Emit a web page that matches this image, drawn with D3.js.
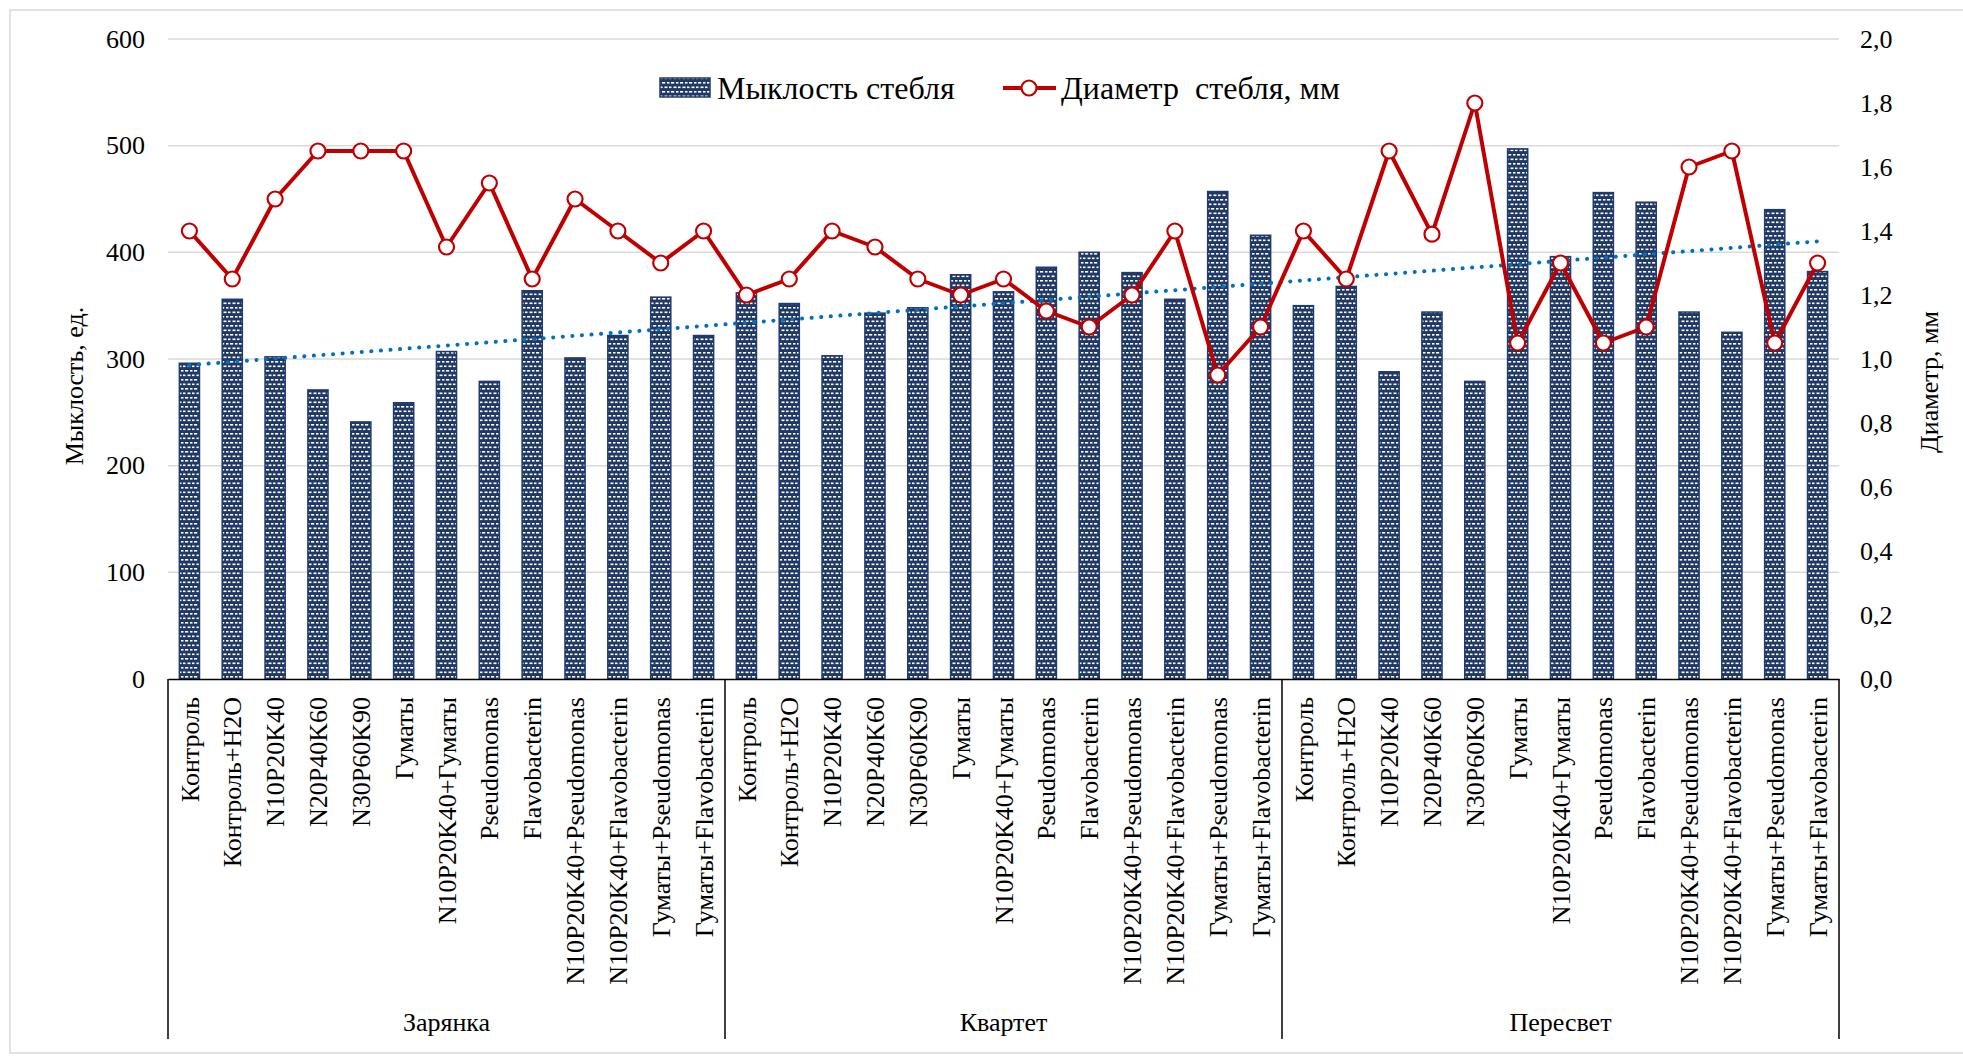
<!DOCTYPE html>
<html>
<head>
<meta charset="utf-8">
<script src="https://cdn.jsdelivr.net/npm/d3@7"></script>
<style>
  body { margin: 0; background: #fff; }
  svg, svg text { font-family: "Liberation Serif", "Times New Roman", serif; }
</style>
</head>
<body>
<svg width="1963" height="1063"></svg>
<script>
// data
const groups = ["Зарянка", "Квартет", "Пересвет"];
const treatments = ["Контроль", "Контроль+H2O", "N10P20K40", "N20P40K60", "N30P60K90", "Гуматы",
    "N10P20K40+Гуматы", "Pseudomonas", "Flavobacterin", "N10P20K40+Pseudomonas",
    "N10P20K40+Flavobacterin", "Гуматы+Pseudomonas", "Гуматы+Flavobacterin"];

// Мыклость стебля, ед. (left axis)
const stemFriability = [
    296, 356, 302, 271, 241, 259, 307, 279, 364, 301, 322, 358, 322,
    362, 352, 303, 343, 348, 379, 363, 386, 400, 381, 356, 457, 416,
    350, 368, 288, 344, 279, 497, 396, 456, 447, 344, 325, 440, 382
];
// Диаметр стебля, мм (right axis)
const stemDiameter = [
    1.40, 1.25, 1.50, 1.65, 1.65, 1.65, 1.35, 1.55, 1.25, 1.50, 1.40, 1.30, 1.40,
    1.20, 1.25, 1.40, 1.35, 1.25, 1.20, 1.25, 1.15, 1.10, 1.20, 1.40, 0.95, 1.10,
    1.40, 1.25, 1.65, 1.39, 1.80, 1.05, 1.30, 1.05, 1.10, 1.60, 1.65, 1.05, 1.30
];

const leftTicks = [0, 100, 200, 300, 400, 500, 600];
const rightTicks = [0, 0.2, 0.4, 0.6, 0.8, 1.0, 1.2, 1.4, 1.6, 1.8, 2.0];

const rows = [];
groups.forEach((g, gi) => treatments.forEach((t, ti) => {
    const i = gi * treatments.length + ti;
    rows.push({key: g + "|" + t, group: g, name: t, idx: i,
               bar: stemFriability[i], dia: stemDiameter[i]});
}));

const serif = "Liberation Serif, Times New Roman, serif";
const plotLeft = 168, plotRight = 1839, plotTop = 39, plotBottom = 679;
const svg = d3.select("svg");

// bar pattern (navy with white dashes)
const defs = svg.append("defs");
const pat = defs.append("pattern")
    .attr("id", "barPat")
    .attr("patternUnits", "userSpaceOnUse")
    .attr("width", 9).attr("height", 9);
pat.append("rect").attr("width", 9).attr("height", 9).attr("fill", "#1f3864");
[[1, 1, 2.5], [5, 1, 3.2], [-1.5, 5.5, 3], [3, 5.5, 2.5], [7.5, 5.5, 3]].forEach(d => {
    pat.append("rect").attr("x", d[0]).attr("y", d[1]).attr("width", d[2]).attr("height", 1.6)
        .attr("fill", "#ffffff");
});

// chart border
svg.append("rect")
    .attr("x", 10).attr("y", 10).attr("width", 1962).attr("height", 1043)
    .attr("fill", "none").attr("stroke", "#d9d9d9").attr("stroke-width", 1.5);

const x = d3.scaleBand()
    .domain(rows.map(d => d.key))
    .range([plotLeft, plotRight])
    .paddingInner(0.53)
    .paddingOuter(0.265);

const y = d3.scaleLinear().domain([0, 600]).range([plotBottom, plotTop]);
const y2 = d3.scaleLinear().domain([0, 2]).range([plotBottom, plotTop]);
const cx = d => x(d.key) + x.bandwidth() / 2;

// gridlines
svg.append("g").selectAll("line").data(leftTicks.filter(t => t > 0)).enter().append("line")
    .attr("x1", plotLeft).attr("x2", plotRight)
    .attr("y1", d => y(d)).attr("y2", d => y(d))
    .attr("stroke", "#d9d9d9").attr("stroke-width", 1.5);

// left axis
const yAxis = svg.append("g")
    .attr("transform", `translate(${plotLeft},0)`)
    .call(d3.axisLeft(y).tickValues(leftTicks).tickSize(0).tickPadding(23))
    .attr("font-family", serif).attr("font-size", 26);
yAxis.select(".domain").remove();
yAxis.selectAll("text").style("font-family", serif).style("font-size", "26px").attr("fill", "#000");

// right axis
const commaFmt = d3.formatLocale({decimal: ",", thousands: " ", grouping: [3], currency: ["", ""]}).format(".1f");
const yAxisR = svg.append("g")
    .attr("transform", `translate(${plotRight},0)`)
    .call(d3.axisRight(y2).tickValues(rightTicks).tickFormat(commaFmt).tickSize(0).tickPadding(21))
    .attr("font-family", serif).attr("font-size", 26);
yAxisR.select(".domain").remove();
yAxisR.selectAll("text").style("font-family", serif).style("font-size", "26px").attr("fill", "#000");

// bars
svg.append("g").selectAll("rect").data(rows).enter().append("rect")
    .attr("x", d => x(d.key))
    .attr("y", d => y(d.bar))
    .attr("width", x.bandwidth())
    .attr("height", d => y(0) - y(d.bar))
    .attr("fill", "url(#barPat)")
    .attr("stroke", "#203a72")
    .attr("stroke-width", 1.5);

// category axis
const xAxis = svg.append("g")
    .attr("transform", `translate(0,${plotBottom})`)
    .call(d3.axisBottom(x).tickSize(0).tickSizeOuter(0).tickFormat(k => k.split("|")[1]))
    .attr("font-family", serif).attr("font-size", 26);
xAxis.select(".domain").attr("stroke", "#000").attr("stroke-width", 1.5);
xAxis.selectAll("text")
    .style("font-family", serif).style("font-size", "26px").attr("fill", "#000")
    .attr("transform", "rotate(-90)")
    .attr("x", -18).attr("y", 0).attr("dy", "0.35em")
    .attr("text-anchor", "end");

// group separators and labels
const step = x.step();
const n = treatments.length;
svg.append("g").selectAll("line").data(d3.range(groups.length + 1)).enter().append("line")
    .attr("x1", k => plotLeft + k * n * step).attr("x2", k => plotLeft + k * n * step)
    .attr("y1", plotBottom).attr("y2", 1039)
    .attr("stroke", "#000").attr("stroke-width", 1.5);
svg.append("g").selectAll("text").data(groups).enter().append("text")
    .attr("x", (g, k) => plotLeft + (k + 0.5) * n * step)
    .attr("y", 1031)
    .attr("text-anchor", "middle")
    .style("font-family", serif).style("font-size", "26px")
    .text(g => g);

// linear trend of the bar series
const lr = (() => {
    const xs = rows.map(d => d.idx), ys = rows.map(d => d.bar);
    const mx = d3.mean(xs), my = d3.mean(ys);
    const b = d3.sum(xs, (v, i) => (v - mx) * (ys[i] - my)) / d3.sum(xs, v => (v - mx) * (v - mx));
    return {a: my - b * mx, b: b};
})();
const first = rows[0], last = rows[rows.length - 1];
svg.append("line")
    .attr("x1", cx(first)).attr("y1", y(lr.a + lr.b * first.idx))
    .attr("x2", cx(last)).attr("y2", y(lr.a + lr.b * last.idx))
    .attr("stroke", "#0070c0").attr("stroke-width", 4)
    .attr("stroke-linecap", "round").attr("stroke-dasharray", "0.1 9.5");

// diameter line
const line = d3.line().x(cx).y(d => y2(d.dia));
svg.append("path").datum(rows)
    .attr("d", line)
    .attr("fill", "none").attr("stroke", "#c00000").attr("stroke-width", 4)
    .attr("stroke-linejoin", "round");
svg.append("g").selectAll("circle").data(rows).enter().append("circle")
    .attr("cx", cx).attr("cy", d => y2(d.dia)).attr("r", 7.5)
    .attr("fill", "#fff").attr("stroke", "#c00000").attr("stroke-width", 2.2);

// axis titles
svg.append("text")
    .attr("transform", "translate(83,386) rotate(-90)")
    .attr("text-anchor", "middle")
    .style("font-family", serif).style("font-size", "26px")
    .text("Мыклость, ед.");
svg.append("text")
    .attr("transform", "translate(1938,382) rotate(-90)")
    .attr("text-anchor", "middle")
    .style("font-family", serif).style("font-size", "26px")
    .text("Диаметр, мм");

// legend
const legend = svg.append("g");
legend.append("rect")
    .attr("x", 660).attr("y", 78).attr("width", 50).attr("height", 19)
    .attr("fill", "url(#barPat)").attr("stroke", "#203a72").attr("stroke-width", 1.5);
legend.append("text")
    .attr("x", 717).attr("y", 99)
    .style("font-family", serif).style("font-size", "32px")
    .text("Мыклость стебля");
legend.append("line")
    .attr("x1", 1003).attr("x2", 1056).attr("y1", 88).attr("y2", 88)
    .attr("stroke", "#c00000").attr("stroke-width", 4);
legend.append("circle")
    .attr("cx", 1029).attr("cy", 88).attr("r", 7.5)
    .attr("fill", "#fff").attr("stroke", "#c00000").attr("stroke-width", 2.2);
legend.append("text")
    .attr("x", 1061).attr("y", 99)
    .style("font-family", serif).style("font-size", "32px").style("white-space", "pre")
    .text("Диаметр  стебля, мм");
</script>
</body>
</html>
